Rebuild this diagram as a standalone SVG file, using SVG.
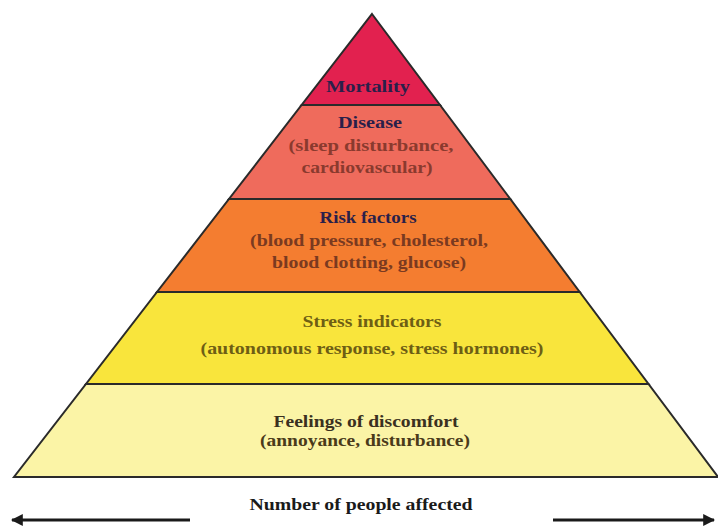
<svg xmlns="http://www.w3.org/2000/svg" width="718" height="528" viewBox="0 0 718 528">
<style>
.band{stroke:#2a2a2a;stroke-width:2;stroke-linejoin:miter}
text{font-family:"Liberation Serif","Times New Roman",serif;font-weight:bold;font-size:16px;text-anchor:middle}
.t{fill:#2a1f4a}
.s1{fill:#8a3a2e}
.s2{fill:#7a3a20}
.s3{fill:#6e5e14}
.s4{fill:#4a3a1a}
.ax{fill:#1a1a1a}
.arr{stroke:#1a1a1a;stroke-width:3;fill:none}
</style>
<defs>
<marker id="ah" viewBox="0 0 10 10" refX="9" refY="5" markerWidth="4" markerHeight="4" orient="auto-start-reverse" markerUnits="strokeWidth">
<path d="M0,0 L10,5 L0,10 z" fill="#1a1a1a"/>
</marker>
</defs>
<rect width="718" height="528" fill="#ffffff"/>
<g id="feelings">
<polygon class="band" points="86,384 648.5,384 718,477 14,477" fill="#fbf4a6"/>
<text class="t" x="366" y="427" textLength="185" lengthAdjust="spacingAndGlyphs" style="fill:#3a3020">Feelings of discomfort</text>
<text class="s4" x="365" y="446" textLength="210" lengthAdjust="spacingAndGlyphs">(annoyance, disturbance)</text>
</g>
<g id="stress">
<polygon class="band" points="157,292 579.7,292 648.5,384 86,384" fill="#f9e53c"/>
<text class="s3" x="372" y="327" textLength="139" lengthAdjust="spacingAndGlyphs">Stress indicators</text>
<text class="s3" x="372" y="354" textLength="343" lengthAdjust="spacingAndGlyphs">(autonomous response, stress hormones)</text>
</g>
<g id="risk">
<polygon class="band" points="229,199 510.3,199 579.7,292 157,292" fill="#f47d30"/>
<text class="t" x="368" y="223" textLength="97" lengthAdjust="spacingAndGlyphs">Risk factors</text>
<text class="s2" x="369" y="246" textLength="238" lengthAdjust="spacingAndGlyphs">(blood pressure, cholesterol,</text>
<text class="s2" x="369" y="268" textLength="194" lengthAdjust="spacingAndGlyphs">blood clotting, glucose)</text>
</g>
<g id="disease">
<polygon class="band" points="301.6,105 440,105 510.3,199 229,199" fill="#ef6b5c"/>
<text class="t" x="370" y="128" textLength="64" lengthAdjust="spacingAndGlyphs">Disease</text>
<text class="s1" x="371" y="151" textLength="165" lengthAdjust="spacingAndGlyphs">(sleep disturbance,</text>
<text class="s1" x="367" y="173" textLength="131" lengthAdjust="spacingAndGlyphs">cardiovascular)</text>
</g>
<g id="mortality">
<polygon class="band" points="372,14 440,105 301.6,105" fill="#e2214f"/>
<text class="t" x="368" y="92" textLength="84" lengthAdjust="spacingAndGlyphs">Mortality</text>
</g>
<g id="connectors">
<line class="arr" x1="190" y1="520" x2="12" y2="520" marker-end="url(#ah)"/>
<line class="arr" x1="553" y1="520" x2="714" y2="520" marker-end="url(#ah)"/>
</g>
<g id="axis-label">
<text class="ax" x="361" y="510" textLength="223" lengthAdjust="spacingAndGlyphs">Number of people affected</text>
</g>
</svg>
